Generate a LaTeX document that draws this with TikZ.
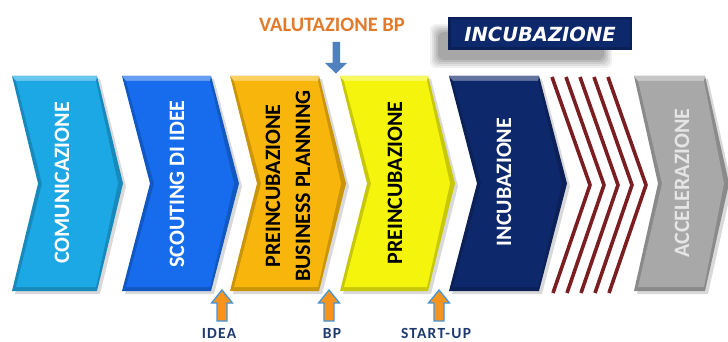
\documentclass[tikz,border=0pt]{standalone}
\usepackage{fontspec}
\setmainfont{Carlito}
\newfontfamily\djv{DejaVu Sans}
\definecolor{cCyan}{RGB}{28,168,228}
\definecolor{cBlue}{RGB}{22,108,236}
\definecolor{cOrange}{RGB}{248,182,12}
\definecolor{cYellow}{RGB}{244,244,12}
\definecolor{cNavy}{RGB}{14,40,108}
\definecolor{cGray}{RGB}{168,168,168}
\definecolor{cStripe}{RGB}{122,30,34}
\definecolor{cValut}{RGB}{226,122,44}
\definecolor{cLabel}{RGB}{30,58,110}
\definecolor{cArrowBlue}{RGB}{79,129,189}
\definecolor{cUpFill}{RGB}{247,148,30}
\definecolor{cUpEdge}{RGB}{70,150,215}
\newcommand{\mychev}[4]{%
  % #1 x0, #2 top width, #3 depth, #4 colour
  \fill[black,opacity=0.15] ({#1+3},79) -- ({#1+#2+3},79) -- ({#1+#2+#3+3},186.5) -- ({#1+#2+3},294) -- ({#1+3},294) -- ({#1+#3+3},186.5) -- cycle;
  \fill[#4!82!black] (#1,76) -- ({#1+#2},76) -- ({#1+#2+#3},183.5) -- ({#1+#2},291) -- (#1,291) -- ({#1+#3},183.5) -- cycle;
  \fill[#4!65!white] (#1,76) -- ({#1+#2},76) -- ({#1+#2-1},81) -- ({#1+4},81) -- cycle;
  \fill[#4] ({#1+4},81) -- ({#1+#2-1},81) -- ({#1+#2+#3-5},183.5) -- ({#1+#2-1},287) -- ({#1+4},287) -- ({#1+#3+4},183.5) -- cycle;
}
\tikzset{
  chevtext/.style={rotate=90, font=\bfseries\fontsize{22}{30}\selectfont, align=center, inner sep=0pt},
  lbl/.style={font=\bfseries\fontsize{15.5}{17}\selectfont\addfontfeature{LetterSpace=8}, text=cLabel, inner sep=0pt},
  stripe/.style={draw=cStripe, line width=3.6pt, line join=miter},
}
\newcommand{\uparr}[1]{%
  \filldraw[fill=cUpFill, draw=cUpEdge, line width=1.3pt]
    (#1,290) -- ({#1+10.5},303) -- ({#1+5},303) -- ({#1+5},321) -- ({#1-5},321) -- ({#1-5},303) -- ({#1-10.5},303) -- cycle;
}
\begin{document}
\begin{tikzpicture}[x=1pt,y=-1pt]
\useasboundingbox (0,0) rectangle (728,342);
\fill[white] (0,0) rectangle (728,342);

% chevrons
\mychev{12}{85}{26}{cCyan}
\mychev{122}{89}{28}{cBlue}
\mychev{230}{89}{27}{cOrange}
\mychev{340}{88}{27}{cYellow}
\mychev{449}{90}{28}{cNavy}
\mychev{634}{71}{24}{cGray}

% stripes
\foreach \k in {0,...,4}{
  \draw[stripe] ({552+14*\k},77) -- ({590+14*\k},185) -- ({553+14*\k},293);
}

% chevron texts
\node[chevtext, text=white] (t1) at (62,183) {COMUNICAZIONE};
\node[chevtext, text=white] (t2) at (177,184) {SCOUTING DI IDEE};
\node[chevtext, text=black] (t3) at (288,186) {PREINCUBAZIONE\\BUSINESS PLANNING};
\node[chevtext, text=black] (t4) at (395,183) {PREINCUBAZIONE};
\node[chevtext, text=white] (t5) at (504,182) {INCUBAZIONE};
\node[chevtext, text=black!10] (t7) at (682,183) {ACCELERAZIONE};

% INCUBAZIONE box with shadow
\foreach \i/\o in {0/0.06,2/0.07,4/0.08,6/0.09,8/0.10}{
  \fill[black,opacity=\o,rounded corners=6pt] ({430+\i},{24+\i}) rectangle ({612-\i},{68-\i});
}
\fill[cNavy!80!black] (448,17) rectangle (632,50);
\fill[cNavy] (450.5,19.5) rectangle (629.5,47.5);
\node[text=white, font=\djv\bfseries\itshape\fontsize{19.5}{22}\selectfont, inner sep=0pt] (inc) at (540,34) {INCUBAZIONE};

% VALUTAZIONE BP
\node[text=cValut, font=\bfseries\fontsize{20.5}{22}\selectfont, inner sep=0pt] (val) at (332,25) {VALUTAZIONE BP};
\fill[cArrowBlue] (332.5,42) -- (340,42) -- (340,63) -- (347,63) -- (336,73.5) -- (325,63) -- (332.5,63) -- cycle;

% up arrows and labels
\uparr{222}
\uparr{329}
\uparr{439}
\node[lbl] (idea) at (219,333) {IDEA};
\node[lbl] (bp) at (332,333) {BP};
\node[lbl] (su) at (436,333) {START-UP};
\end{tikzpicture}
\end{document}
